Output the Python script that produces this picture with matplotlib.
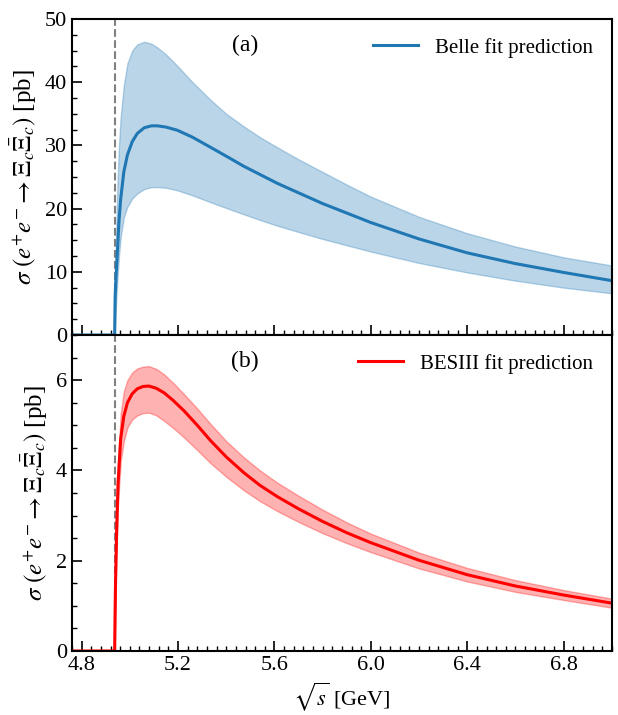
import numpy as np
import matplotlib.pyplot as plt
from matplotlib.ticker import MultipleLocator

plt.rcParams['font.family'] = 'serif'
plt.rcParams['font.serif'] = ['Liberation Serif', 'DejaVu Serif']
plt.rcParams['mathtext.fontset'] = 'stix'

# threshold 2 m(Xi_c)
thr = 4.937

# panel (a): Belle fit prediction
sa = [4.76, 4.937, 4.939, 4.943, 4.948, 4.955, 4.962, 4.975, 4.99, 5.01, 5.031, 5.06, 5.09, 5.114,
      5.15, 5.197, 5.26, 5.335, 5.40, 5.473, 5.54, 5.612, 5.70, 5.80, 5.90, 6.0, 6.2, 6.4, 6.6, 6.8, 7.0]
belle_mid = [0, 0, 6.0, 9.5, 12.8, 18.0, 21.5, 25.8, 28.5, 30.6, 31.9, 32.8, 33.1, 33.1,
             32.9, 32.4, 31.3, 29.7, 28.3, 26.7, 25.4, 24.0, 22.5, 20.8, 19.3, 17.8, 15.2, 13.0, 11.3, 9.9, 8.6]
belle_hi = [0, 0, 9.0, 16.0, 23.5, 30.0, 34.5, 39.5, 43.0, 45.0, 46.0, 46.4, 46.1, 45.5,
            44.4, 42.6, 40.0, 37.2, 35.0, 33.0, 31.3, 29.7, 27.8, 25.8, 23.8, 21.9, 18.7, 16.1, 14.0, 12.3, 11.0]
belle_lo = [0, 0, 2.5, 5.0, 8.6, 12.5, 15.5, 18.6, 20.3, 21.6, 22.4, 23.1, 23.4, 23.4,
            23.3, 22.9, 22.1, 21.0, 20.1, 19.1, 18.2, 17.3, 16.3, 15.2, 14.2, 13.2, 11.4, 9.9, 8.6, 7.5, 6.6]

# panel (b): BESIII fit prediction
sb = [4.76, 4.937, 4.939, 4.941, 4.945, 4.951, 4.962, 4.975, 4.99, 5.01, 5.031, 5.055, 5.079, 5.11,
      5.142, 5.18, 5.225, 5.28, 5.335, 5.40, 5.473, 5.54, 5.612, 5.70, 5.80, 5.90, 6.0, 6.2, 6.4, 6.6, 6.8, 7.0]
bes_mid = [0, 0, 0.9, 1.6, 2.6, 3.7, 4.7, 5.2, 5.5, 5.70, 5.81, 5.86, 5.87, 5.82,
           5.72, 5.55, 5.32, 5.00, 4.66, 4.30, 3.95, 3.67, 3.42, 3.15, 2.87, 2.62, 2.40, 2.01, 1.69, 1.44, 1.24, 1.06]
bes_hi = [0, 0, 1.0, 1.8, 3.0, 4.2, 5.25, 5.75, 6.0, 6.17, 6.26, 6.30, 6.31, 6.25,
          6.13, 5.94, 5.69, 5.37, 5.03, 4.65, 4.29, 4.00, 3.73, 3.44, 3.13, 2.85, 2.60, 2.18, 1.84, 1.57, 1.35, 1.16]
bes_lo = [0, 0, 0.8, 1.4, 2.3, 3.25, 4.2, 4.65, 4.95, 5.13, 5.22, 5.27, 5.28, 5.22,
          5.10, 4.94, 4.73, 4.45, 4.16, 3.86, 3.56, 3.32, 3.10, 2.86, 2.61, 2.39, 2.19, 1.83, 1.54, 1.31, 1.13, 0.96]

fig, (ax1, ax2) = plt.subplots(2, 1, figsize=(6.18, 7.15), dpi=100, sharex=True)
fig.subplots_adjust(left=0.1165, right=0.990, top=0.9734, bottom=0.0895, hspace=0)

ax1.fill_between(sa, belle_lo, belle_hi, color='#1f77b4', alpha=0.3, lw=1)
ax1.plot(sa, belle_mid, color='#1f77b4', lw=2.2, label='Belle fit prediction')
ax1.axvline(thr, color='gray', ls='--', lw=1.5, zorder=0)
ax1.set_ylim(0, 50)
ax1.yaxis.set_major_locator(MultipleLocator(10))
ax1.yaxis.set_minor_locator(MultipleLocator(2.5))
ax1.text(0.32, 0.915, '(a)', transform=ax1.transAxes, ha='center', va='center', fontsize=17)
ax1.legend(loc='upper right', frameon=False, fontsize=15, handlelength=2.2)

ax2.fill_between(sb, bes_lo, bes_hi, color='red', alpha=0.3, lw=1)
ax2.plot(sb, bes_mid, color='red', lw=2.2, label='BESIII fit prediction')
ax2.axvline(thr, color='gray', ls='--', lw=1.5, zorder=0)
ax2.set_ylim(0, 7)
ax2.yaxis.set_major_locator(MultipleLocator(2))
ax2.yaxis.set_minor_locator(MultipleLocator(0.5))
ax2.text(0.32, 0.915, '(b)', transform=ax2.transAxes, ha='center', va='center', fontsize=17)
ax2.legend(loc='upper right', frameon=False, fontsize=15, handlelength=2.2)

ax2.set_xlim(4.76, 7.0)
ax2.xaxis.set_major_locator(MultipleLocator(0.4))
ax2.xaxis.set_minor_locator(MultipleLocator(0.04))
ax2.xaxis.set_major_formatter(plt.FormatStrFormatter('%.1f'))
ax2.set_xlabel(r'$\sqrt{s}$ [GeV]', fontsize=16)

for ax in (ax1, ax2):
    ax.set_ylabel(r'$\sigma\ (e^{+}e^{-} \rightarrow \Xi_c\bar{\Xi}_c)$ [pb]', fontsize=18)
    ax.tick_params(which='both', direction='in', top=False, right=False, labelsize=16)
    ax.tick_params(which='major', length=7, width=1.2)
    ax.tick_params(which='minor', length=3.5, width=1.0)
    for sp in ax.spines.values():
        sp.set_linewidth(1.5)

fig.savefig('out.png', dpi=100)
